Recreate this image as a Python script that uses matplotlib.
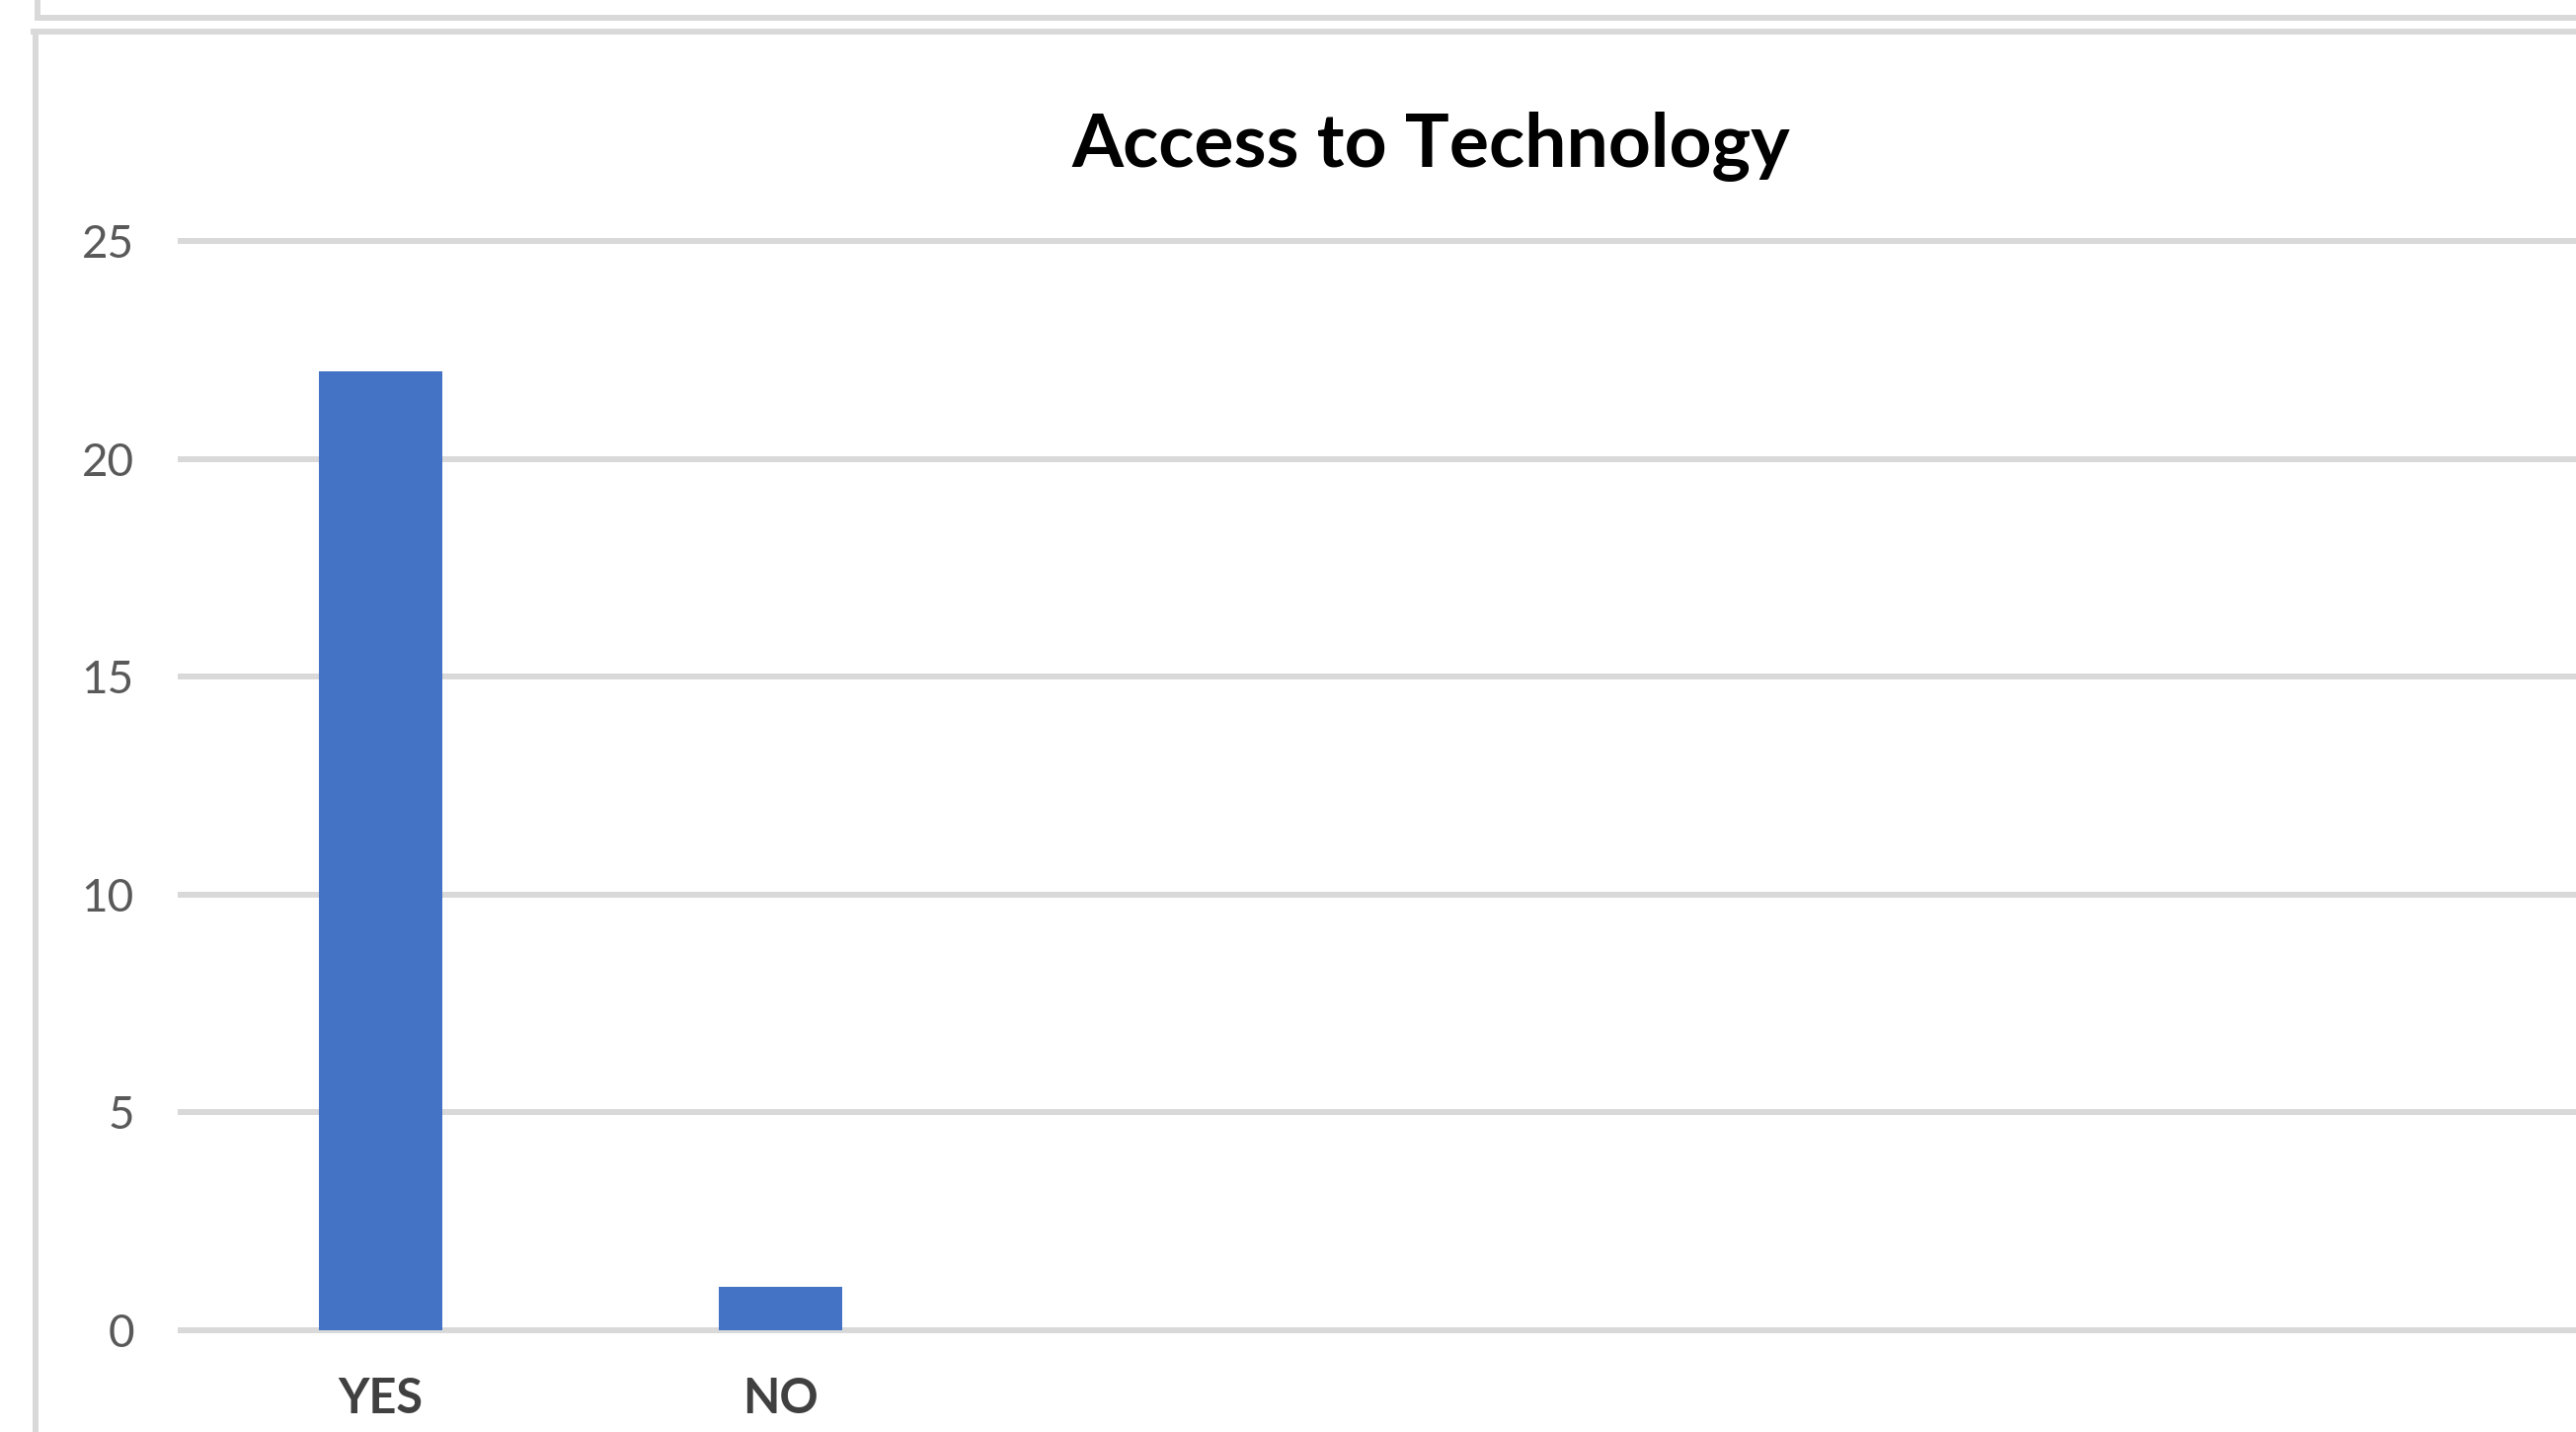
import matplotlib.pyplot as plt
from matplotlib.lines import Line2D

# data
categories = ['YES', 'NO']
counts = [22, 1]
y_ticks = [0, 5, 10, 15, 20, 25]

W, H = 2609, 1450
fig = plt.figure(figsize=(W / 100, H / 100), dpi=100)
plt.rcParams['font.family'] = ['Lato', 'DejaVu Sans']

grid_col = '#D9D9D9'
bar_col = '#4472C4'

left_px, right_px, top_px, base_px = 183, 2613, 244, 1347
ax = fig.add_axes([left_px / W, 1 - base_px / H, (right_px - left_px) / W, (base_px - top_px) / H])

x = list(range(len(categories)))
ax.bar(x, counts, width=0.31, color=bar_col, zorder=3)

ax.set_xlim(-0.5, 5.5)
ax.set_ylim(0, 25)
ax.set_yticks(y_ticks)
ax.set_xticks(x)
ax.set_xticklabels(categories, fontsize=35, fontweight='bold', color='#404040')
ax.tick_params(axis='y', length=0, pad=34, labelsize=33, labelcolor='#595959')
ax.tick_params(axis='x', length=0, pad=34)

ax.grid(axis='y', color=grid_col, linewidth=4.3, zorder=0)
for gl in ax.get_ygridlines():
    gl.set_clip_on(False)
ax.set_axisbelow(True)
for s in ['top', 'right', 'left']:
    ax.spines[s].set_visible(False)
ax.spines['bottom'].set_color(grid_col)
ax.spines['bottom'].set_linewidth(4.3)
ax.spines['bottom'].set_zorder(2)

# title
fig.text(1449 / W, 1 - 169 / H, 'Access to Technology', ha='center', va='baseline',
         fontsize=54, fontweight='bold', color='black')

# chart frame borders from the screenshot
def hline(y, x0, x1):
    fig.add_artist(Line2D([x0 / W, x1 / W], [1 - y / H, 1 - y / H], color=grid_col, linewidth=4.3))

def vline(x0, y0, y1):
    fig.add_artist(Line2D([x0 / W, x0 / W], [1 - y0 / H, 1 - y1 / H], color=grid_col, linewidth=4.3))

hline(18, 38, W)
vline(38, 0, 18)
hline(32, 34, W)
vline(36, 32, H)

fig.savefig('out.png', dpi=100)
